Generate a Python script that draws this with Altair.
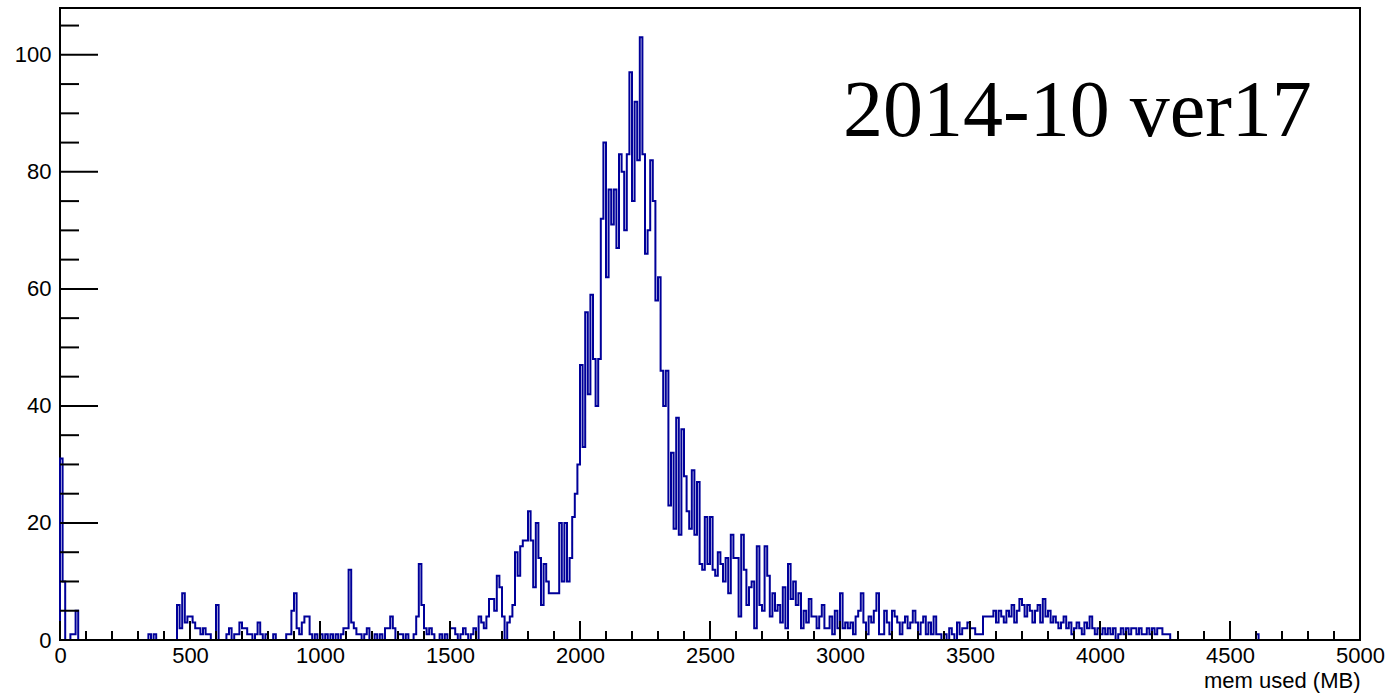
import altair as alt
import pandas as pd

BIN_WIDTH = 10  # MB per bin, 500 bins from 0 to 5000

counts_0000 = [31, 10, 0, 0, 1, 1, 5, 0, 0, 0,
               0, 0, 0, 0, 0, 0, 0, 0, 0, 0,
               0, 0, 0, 0, 0, 0, 0, 0, 0, 0,
               0, 0, 0, 0, 1, 0, 1, 0, 0, 0,
               0, 0, 0, 0, 0, 6, 2, 8, 3, 4]
counts_0500 = [4, 3, 2, 2, 1, 2, 1, 1, 0, 0,
               6, 0, 0, 0, 1, 2, 0, 1, 1, 3,
               2, 2, 1, 1, 0, 1, 3, 1, 0, 1,
               0, 0, 1, 0, 0, 0, 0, 1, 1, 5,
               8, 2, 1, 3, 4, 4, 1, 0, 1, 0]
counts_1000 = [1, 0, 1, 0, 1, 0, 1, 0, 1, 2,
               2, 12, 3, 2, 1, 1, 0, 1, 2, 0,
               0, 1, 0, 1, 0, 2, 2, 4, 2, 0,
               1, 1, 0, 1, 0, 0, 1, 4, 13, 6,
               2, 1, 2, 1, 0, 0, 1, 0, 1, 0]
counts_1500 = [2, 2, 1, 0, 1, 2, 1, 0, 1, 2,
               0, 4, 3, 2, 4, 7, 7, 5, 11, 9,
               4, 0, 3, 4, 6, 15, 11, 16, 17, 17,
               22, 17, 9, 20, 14, 6, 13, 10, 8, 8,
               8, 8, 20, 10, 20, 10, 14, 21, 25, 30]
counts_2000 = [47, 33, 56, 42, 59, 48, 40, 48, 72, 85,
               62, 77, 71, 77, 67, 83, 80, 70, 83, 97,
               75, 92, 82, 103, 83, 66, 70, 82, 75, 58,
               62, 46, 40, 46, 23, 32, 19, 38, 18, 36,
               28, 22, 19, 29, 18, 27, 13, 12, 21, 13]
counts_2500 = [21, 12, 11, 15, 13, 10, 14, 8, 18, 14,
               14, 4, 18, 12, 6, 9, 10, 2, 16, 6,
               5, 16, 11, 4, 8, 5, 6, 3, 9, 2,
               13, 7, 10, 6, 8, 2, 5, 3, 7, 4,
               4, 2, 4, 6, 2, 2, 4, 1, 5, 2]
counts_3000 = [8, 2, 3, 2, 3, 1, 4, 5, 8, 3,
               1, 4, 3, 5, 8, 1, 1, 5, 3, 1,
               5, 4, 3, 1, 3, 4, 2, 3, 5, 3,
               1, 3, 4, 1, 3, 1, 4, 1, 1, 0,
               1, 0, 2, 1, 0, 3, 1, 2, 2, 3]
counts_3500 = [2, 2, 1, 1, 1, 4, 4, 4, 4, 5,
               3, 5, 4, 3, 5, 4, 6, 3, 5, 7,
               6, 4, 6, 5, 3, 5, 6, 3, 7, 4,
               5, 3, 4, 3, 2, 3, 4, 2, 3, 1,
               2, 3, 2, 1, 3, 2, 4, 2, 1, 2]
counts_4000 = [1, 2, 1, 2, 1, 2, 0, 1, 2, 1,
               2, 1, 2, 2, 1, 2, 1, 1, 2, 1,
               2, 1, 2, 2, 1, 1, 1, 0, 0, 0,
               0, 0, 0, 0, 0, 0, 0, 0, 0, 0,
               0, 0, 0, 0, 0, 0, 0, 0, 0, 0]
counts_4500 = [0, 0, 0, 0, 0, 0, 0, 0, 0, 0,
               1, 0, 0, 0, 0, 0, 0, 0, 0, 0,
               0, 0, 0, 0, 0, 0, 0, 0, 0, 0,
               0, 0, 0, 0, 0, 0, 0, 0, 0, 0,
               0, 0, 0, 0, 0, 0, 0, 0, 0, 0]

x_major = [0, 500, 1000, 1500, 2000, 2500, 3000, 3500, 4000, 4500, 5000]
x_minor = [v for v in range(0, 5001, 100) if v % 500 != 0]
y_major = [0, 20, 40, 60, 80, 100]
y_minor = [v for v in range(0, 106, 5) if v % 20 != 0]

label_text = "2014-10 ver17"
x_title = "mem used (MB)"

counts = (counts_0000 + counts_0500 + counts_1000 + counts_1500 + counts_2000 +
          counts_2500 + counts_3000 + counts_3500 + counts_4000 + counts_4500)
edges = [0] + [i * BIN_WIDTH for i in range(len(counts))] + [len(counts) * BIN_WIDTH]
heights = [0] + counts + [counts[-1]]
hist = pd.DataFrame({"mem": edges, "n": heights})

W, H = 1300, 632
xs = alt.Scale(domain=[0, 5000], nice=False, zero=False)
ys = alt.Scale(domain=[0, 108], nice=False)
FONT = "Liberation Sans"

line = alt.Chart(hist).mark_line(
    interpolate="step-after", color="#000099", strokeWidth=2
).encode(
    x=alt.X("mem:Q", scale=xs, axis=alt.Axis(
        values=x_major, format="d", domain=False, ticks=False, grid=False,
        labelFont=FONT, labelFontSize=22, labelColor="black", labelPadding=5,
        labelFlush=False, title=x_title, titleFont=FONT, titleFontSize=22,
        titleFontWeight="normal", titleColor="black", titleAlign="right",
        titleBaseline="alphabetic", titleX=W, titleY=47)),
    y=alt.Y("n:Q", scale=ys, axis=alt.Axis(
        values=y_major, format="d", domain=False, ticks=False, grid=False,
        labelFont=FONT, labelFontSize=22, labelColor="black", labelPadding=9,
        title=None)),
)

xmaj = alt.Chart(pd.DataFrame({"v": x_major})).mark_rule(color="black", strokeWidth=2).encode(
    x=alt.X("v:Q", scale=xs), y=alt.value(H), y2=alt.value(H - 19))
xmin = alt.Chart(pd.DataFrame({"v": x_minor})).mark_rule(color="black", strokeWidth=2).encode(
    x=alt.X("v:Q", scale=xs), y=alt.value(H), y2=alt.value(H - 9))
ymaj = alt.Chart(pd.DataFrame({"v": y_major})).mark_rule(color="black", strokeWidth=2).encode(
    y=alt.Y("v:Q", scale=ys), x=alt.value(0), x2=alt.value(38))
ymin = alt.Chart(pd.DataFrame({"v": y_minor})).mark_rule(color="black", strokeWidth=2).encode(
    y=alt.Y("v:Q", scale=ys), x=alt.value(0), x2=alt.value(19))
base = alt.Chart(pd.DataFrame({"v": [0]})).mark_rule(color="black", strokeWidth=2).encode(
    y=alt.Y("v:Q", scale=ys), x=alt.value(0), x2=alt.value(W))

txt = alt.Chart(pd.DataFrame({"t": [label_text]})).mark_text(
    font="Liberation Serif", fontSize=80, align="left", baseline="alphabetic", color="black"
).encode(text="t:N", x=alt.value(783), y=alt.value(128))

chart = alt.layer(line, xmaj, xmin, ymaj, ymin, base, txt).properties(
    width=W, height=H,
    autosize=alt.AutoSizeParams(type="none"),
    padding={"left": 60, "top": 8, "right": 27, "bottom": 55},
    background="white",
).configure_view(stroke="black", strokeWidth=2)

chart.save("out.html", embed_options={"renderer": "svg", "actions": False})
